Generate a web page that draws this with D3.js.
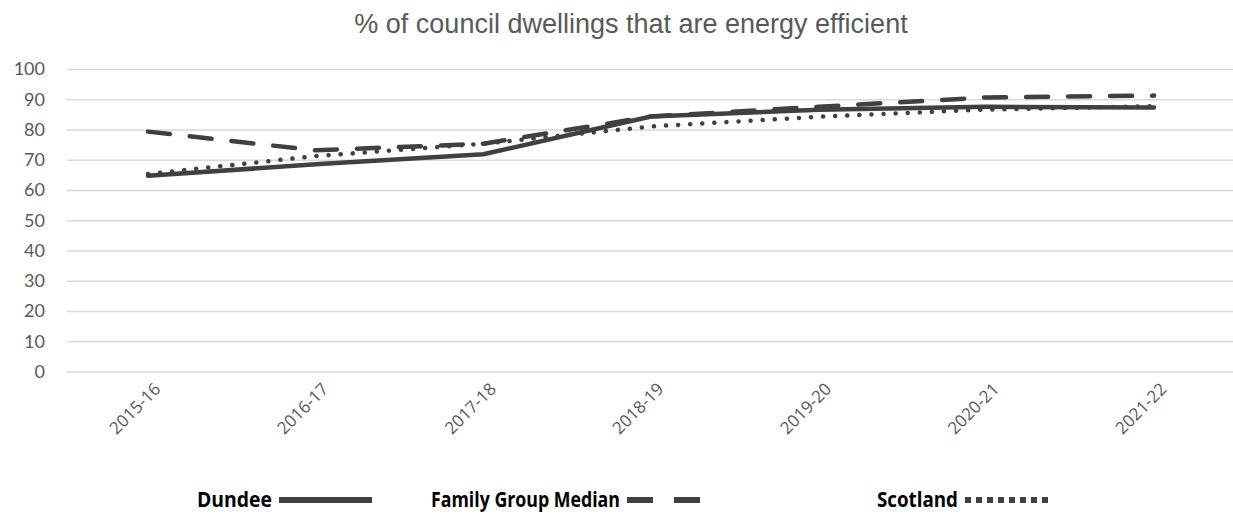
<!DOCTYPE html>
<html><head><meta charset="utf-8">
<script src="https://cdn.jsdelivr.net/npm/d3@7"></script>
<style>body{margin:0;background:#fff}svg{display:block}</style>
</head><body>
<svg id="c" width="1233" height="517"></svg>
<script>
const categories = ["2015-16","2016-17","2017-18","2018-19","2019-20","2020-21","2021-22"];
const dundee = [64.7, 68.5, 71.8, 84.3, 86.5, 87.5, 87.3];
const familyMedian = [79.3, 73.1, 75.3, 84.3, 87.5, 90.6, 91.2];
const scotland = [65.3, 71.2, 75.3, 81.0, 84.2, 86.6, 87.7];
const yTicks = [0,10,20,30,40,50,60,70,80,90,100];
const title = "% of council dwellings that are energy efficient";
const seriesNames = ["Dundee","Family Group Median","Scotland"];

const svg = d3.select("#c");
const x = d3.scalePoint().domain(categories).range([148,1154]);
const y = d3.scaleLinear().domain([0,100]).range([371.5,69]);
const gridL = 67, gridR = 1233;
const col = "#404040";

svg.append("text").attr("x",631).attr("y",33).attr("text-anchor","middle")
  .attr("font-family","Liberation Sans, Arial, sans-serif").attr("font-size",27)
  .attr("fill","#595959").text(title);

const yAxis = d3.axisLeft(y).tickValues(yTicks).tickSize(-(gridR-gridL)).tickPadding(22);
const gy = svg.append("g").attr("transform",`translate(${gridL},0)`).call(yAxis);
gy.select(".domain").remove();
gy.selectAll(".tick line").attr("stroke","#d9d9d9").attr("stroke-width",1.5);
gy.selectAll(".tick text").attr("fill","#595959").attr("font-size",18)
  .attr("font-family","Lato, 'Noto Sans', sans-serif");

const xAxis = d3.axisBottom(x).tickSize(0).tickPadding(0);
const gx = svg.append("g").attr("transform","translate(0,386)").call(xAxis);
gx.select(".domain").remove();
gx.selectAll(".tick text").attr("fill","#595959").attr("font-size",17)
  .attr("font-family","'Open Sans', sans-serif")
  .attr("text-anchor","end").attr("dy","0.35em")
  .attr("transform","translate(9,0) rotate(-45)");

const line = d3.line().x((d,i)=>x(categories[i])).y(d=>y(d));
const styles = [
  {data: dundee, dash: null},
  {data: familyMedian, dash: "22 20"},
  {data: scotland, dash: "0.1 12"}
];
[1,2,0].forEach(k=>{
  const s = styles[k];
  svg.append("path").datum(s.data).attr("d",line).attr("fill","none")
    .attr("stroke",col).attr("stroke-width",4.5)
    .attr("stroke-linecap","round").attr("stroke-linejoin","round")
    .attr("stroke-dasharray",s.dash);
});

// legend
const legend = [
  {name: seriesNames[0], tx: 197, tw: 75, len: 93, dash: null},
  {name: seriesNames[1], tx: 431, tw: 189, len: 73, dash: "26 21"},
  {name: seriesNames[2], tx: 877, tw: 81, len: 84, dash: "6 5"}
];
const ly = 500;
legend.forEach(l=>{
  svg.append("text").attr("x",l.tx).attr("y",ly+7).attr("font-weight","bold")
    .attr("font-family","'Open Sans', sans-serif").attr("font-size",21).attr("fill","#000")
    .attr("textLength",l.tw).attr("lengthAdjust","spacingAndGlyphs")
    .text(l.name);
  const x0 = l.tx + l.tw + 7;
  svg.append("line").attr("x1",x0).attr("x2",x0+l.len).attr("y1",ly).attr("y2",ly)
    .attr("stroke",col).attr("stroke-width",6).attr("stroke-dasharray",l.dash);
});
</script>
</body></html>
